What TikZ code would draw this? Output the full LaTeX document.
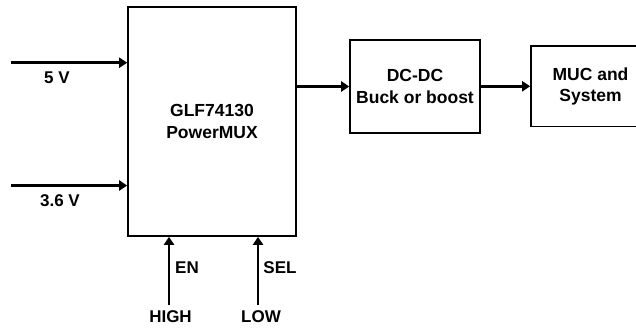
\documentclass[tikz,border=0pt]{standalone}
\usepackage{fontspec}
\setmainfont{Liberation Sans}
\usetikzlibrary{arrows.meta,calc}
\tikzset{
  blk/.style={draw=black,line width=1.6pt,fill=white,inner sep=0pt,align=center,font=\fontsize{17.5}{21.5}\selectfont\bfseries},
  arr/.style={line width=2.6pt,-{Triangle[length=8pt,width=10pt]}},
  lbl/.style={font=\fontsize{17}{19}\selectfont\bfseries,inner sep=0pt}
}
\begin{document}
\begin{tikzpicture}[x=1pt,y=-1pt]
\useasboundingbox (0,0) rectangle (636,327);
\clip (0,0) rectangle (636,327);
\node[blk,minimum width=168pt,minimum height=229pt] (main) at (212,121.5) {GLF74130\\PowerMUX};
\node[blk,minimum width=130pt,minimum height=93pt] (dc) at (415,86.5) {DC-DC\\Buck or boost};
\node[blk,minimum width=119pt,minimum height=80.5pt] (muc) at (590.5,86.3) {MUC and\\System};
\coordinate (in5) at (11,62.7);
\coordinate (in36) at (11,185.5);
\coordinate (en) at (169,305);
\coordinate (sel) at (258,305);
\draw[arr] (in5) -- (in5 -| main.west);
\draw[arr] (in36) -- (in36 -| main.west);
\draw[arr] (en) -- (en |- main.south);
\draw[arr] (sel) -- (sel |- main.south);
\draw[arr] (main.east |- dc.west) -- (dc.west);
\draw[arr] (dc.east |- muc.west) -- (muc.west);
\node[lbl] (l5) at (57,78) {5 V};
\node[lbl] (l36) at (60,201) {3.6 V};
\node[lbl] (len) at (187,268) {EN};
\node[lbl] (lsel) at (280,268) {SEL};
\node[lbl] (lhigh) at (170.5,316.5) {HIGH};
\node[lbl] (llow) at (261,316.5) {LOW};
\end{tikzpicture}
\end{document}
